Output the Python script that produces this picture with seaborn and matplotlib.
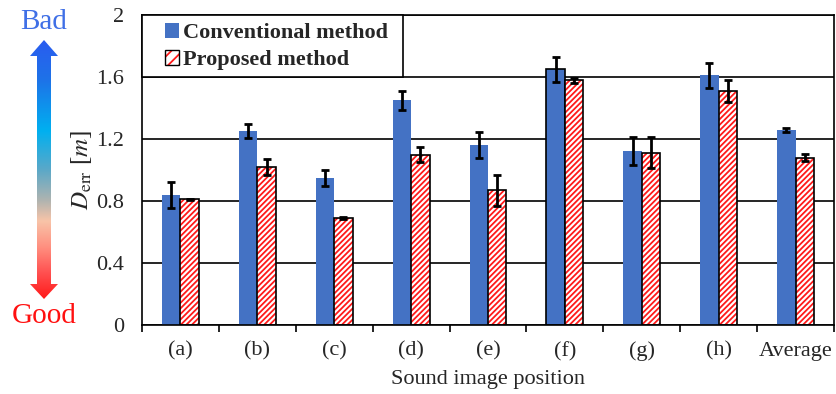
import numpy as np
import pandas as pd
import matplotlib
matplotlib.use('Agg')
import matplotlib.pyplot as plt
import matplotlib.colors as mcolors
from matplotlib.patches import Polygon, Rectangle
import seaborn as sns

positions = ['(a)', '(b)', '(c)', '(d)', '(e)', '(f)', '(g)', '(h)', 'Average']
conv = [0.84, 1.25, 0.95, 1.45, 1.16, 1.65, 1.12, 1.61, 1.26]
conv_err = [0.085, 0.045, 0.05, 0.06, 0.085, 0.08, 0.09, 0.08, 0.014]
prop = [0.81, 1.02, 0.69, 1.10, 0.87, 1.58, 1.11, 1.51, 1.08]
prop_err = [0.005, 0.05, 0.008, 0.05, 0.10, 0.016, 0.10, 0.07, 0.022]
methods = ['Conventional method', 'Proposed method']
yticks = [0, 0.4, 0.8, 1.2, 1.6, 2]
ytick_labels = ['0', '0.4', '0.8', '1.2', '1.6', '2']

sns.set_style('white')
plt.rcParams['font.family'] = ['Liberation Serif', 'DejaVu Serif']
plt.rcParams['mathtext.fontset'] = 'stix'
plt.rcParams['hatch.linewidth'] = 1.3

df = pd.DataFrame({
    'pos': positions * 2,
    'val': conv + prop,
    'method': [methods[0]] * len(positions) + [methods[1]] * len(positions),
})

fig = plt.figure(figsize=(8.37, 3.94), dpi=100)
ax = fig.add_axes([142 / 837, 69 / 394, 692 / 837, 310 / 394])

sns.barplot(data=df, x='pos', y='val', hue='method', palette=['#4472C4', 'white'],
            width=0.48, errorbar=None, saturation=1, ax=ax, legend=False)

# hatched proposed bars: black outline, red stripes
for p in ax.containers[1]:
    p.set_hatch('//////')
    p.set_edgecolor('black')
    p.set_linewidth(1.2)
    p._hatch_color = mcolors.to_rgba('#FF1A1A')
for p in ax.containers[0]:
    p.set_linewidth(0)
ax.containers[0][5].set_edgecolor('black')
ax.containers[0][5].set_linewidth(1.2)

for cont, err in zip(ax.containers, [conv_err, prop_err]):
    xs = [p.get_x() + p.get_width() / 2 for p in cont]
    hs = [p.get_height() for p in cont]
    ax.errorbar(xs, hs, yerr=err, fmt='none', ecolor='black', elinewidth=2,
                capsize=2.8, capthick=2, zorder=5)

ax.set_ylim(0, 2)
ax.set_xlim(-0.5, 8.5)
ax.set_yticks(yticks)
ax.set_yticklabels(ytick_labels)
ax.yaxis.grid(True, color='black', linewidth=1.2)
ax.set_axisbelow(True)
ax.set_xticks(np.arange(-0.5, 9, 1), minor=True)
ax.tick_params(axis='x', which='major', length=0, pad=12, labelsize=16)
ax.tick_params(axis='x', which='minor', length=5, width=1.2, color='black', direction='out', bottom=True)
ax.tick_params(axis='y', length=0, pad=13, labelsize=16)
for s in ax.spines.values():
    s.set_color('black')
    s.set_linewidth(1.2)

ax.set_xlabel('Sound image position', fontsize=16, labelpad=6)
ax.set_ylabel(r'$D_{\mathrm{err}}$ [$m$]', fontsize=18)
ax.yaxis.set_label_coords(-0.07, 0.5)

# legend box (frame drawn separately to get the wide side margins)
ax.add_patch(Rectangle((0, 248 / 310), 261 / 692, 62 / 310, transform=ax.transAxes,
                       facecolor='white', edgecolor='black', linewidth=1.2,
                       clip_on=False, zorder=6))
handles = [plt.Rectangle((0, 0), 1, 1, facecolor='#4472C4', edgecolor='none'),
           plt.Rectangle((0, 0), 1, 1, facecolor='white', edgecolor='black', hatch='///')]
handles[1]._hatch_color = mcolors.to_rgba('#FF1A1A')
leg = ax.legend(handles, methods, loc='upper left', bbox_to_anchor=(15 / 692, 1),
                borderaxespad=0, frameon=False, handlelength=0.65,
                handleheight=0.65, handletextpad=0.15, borderpad=0.35, labelspacing=0.3,
                prop={'family': 'Liberation Serif', 'weight': 'bold', 'size': 16})
leg.set_zorder(7)

# gradient "Bad / Good" arrow on the left
deco = fig.add_axes([0, 0, 1, 1], zorder=-1)
deco.set_xlim(0, 837)
deco.set_ylim(394, 0)
deco.axis('off')
grad = mcolors.LinearSegmentedColormap.from_list('badgood', [
    (0.00, '#2A5CF0'), (0.15, '#1E72E8'), (0.35, '#00B0F0'), (0.50, '#5AA8C8'),
    (0.62, '#B0B4B0'), (0.70, '#F8C4A8'), (0.80, '#FF9080'), (0.90, '#FF5050'),
    (1.00, '#FF1A1A')])
img = deco.imshow(np.linspace(0, 1, 256).reshape(-1, 1), cmap=grad, aspect='auto',
                  extent=[30, 58, 299, 40])
arrow = Polygon([(44, 40), (58, 56), (51, 56), (51, 284), (58, 284), (44, 299),
                 (30, 284), (37, 284), (37, 56), (30, 56)], closed=True,
                transform=deco.transData, facecolor='none', edgecolor='none')
deco.add_patch(arrow)
img.set_clip_path(arrow)
fig.text(44 / 837, 1 - 22 / 394, 'Bad', color='#3F6FE6', fontsize=21,
         ha='center', va='center')
fig.text(44 / 837, 1 - 316 / 394, 'Good', color='#FF1010', fontsize=21,
         ha='center', va='center')

plt.savefig('out.png', dpi=100)
plt.close()
